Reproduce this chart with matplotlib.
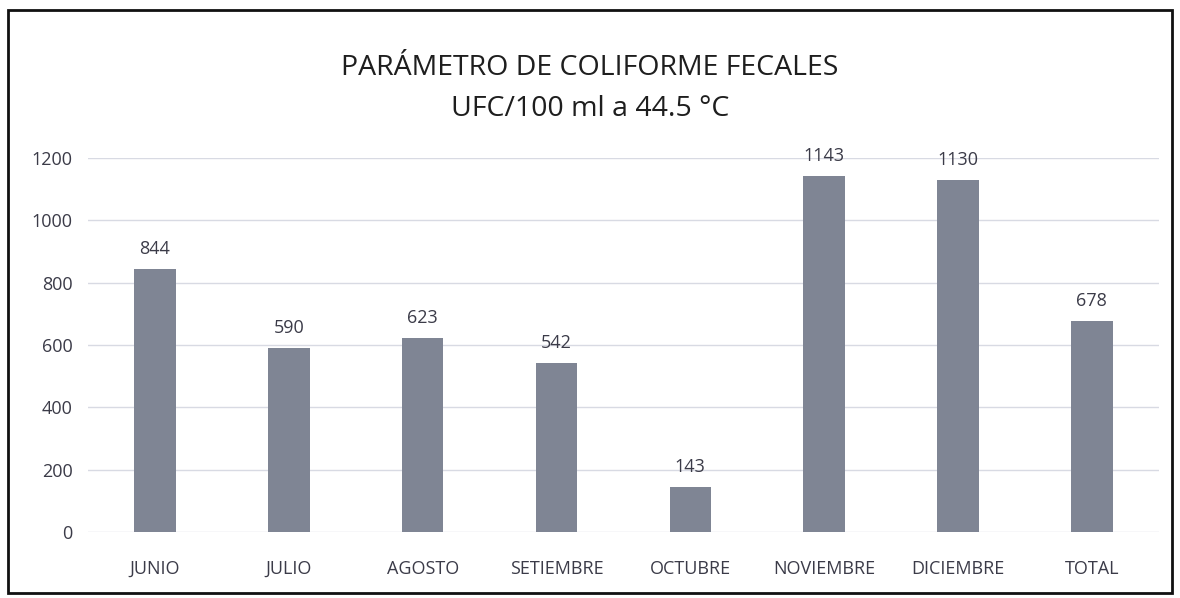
import matplotlib.pyplot as plt
from matplotlib.patches import Rectangle

meses = ["JUNIO", "JULIO", "AGOSTO", "SETIEMBRE", "OCTUBRE",
         "NOVIEMBRE", "DICIEMBRE", "TOTAL"]
ufc = [844, 590, 623, 542, 143, 1143, 1130, 678]
yticks = [0, 200, 400, 600, 800, 1000, 1200]

plt.rcParams["font.family"] = ["Open Sans", "DejaVu Sans"]
txt = "#3b3b48"

fig = plt.figure(figsize=(11.8, 5.98), dpi=100)
ax = fig.add_axes([0.0746, 0.1104, 0.9074, 0.6254])

x = range(len(meses))
ax.bar(x, ufc, width=0.31, color="#7f8594", zorder=3)
for xi, v in zip(x, ufc):
    ax.annotate(str(v), (xi, v), xytext=(0, 8), textcoords="offset points",
                ha="center", va="bottom", fontsize=13, color=txt,
                annotation_clip=False)

ax.set_xlim(-0.5, len(meses) - 0.5)
ax.set_ylim(0, 1200)
ax.set_yticks(yticks)
ax.set_xticks(list(x))
ax.set_xticklabels(meses)
ax.tick_params(axis="both", length=0, labelsize=13, colors=txt)
ax.tick_params(axis="x", pad=20)
ax.tick_params(axis="y", pad=11)
ax.grid(axis="y", color="#d8dae3", linewidth=1, zorder=0)
for s in ax.spines.values():
    s.set_visible(False)

fig.text(0.5, 0.886, "PARÁMETRO DE COLIFORME FECALES", ha="center",
         va="center", fontsize=20.5, color="#1e1e1e")
fig.text(0.5, 0.818, "UFC/100 ml a 44.5 °C", ha="center", va="center",
         fontsize=20.5, color="#1e1e1e")

fig.patches.append(Rectangle((8 / 1180, 1 - 593 / 598), 1164 / 1180, 583 / 598,
                             transform=fig.transFigure, fill=False,
                             edgecolor="#111111", linewidth=2))

fig.savefig("out.png", dpi=100)
